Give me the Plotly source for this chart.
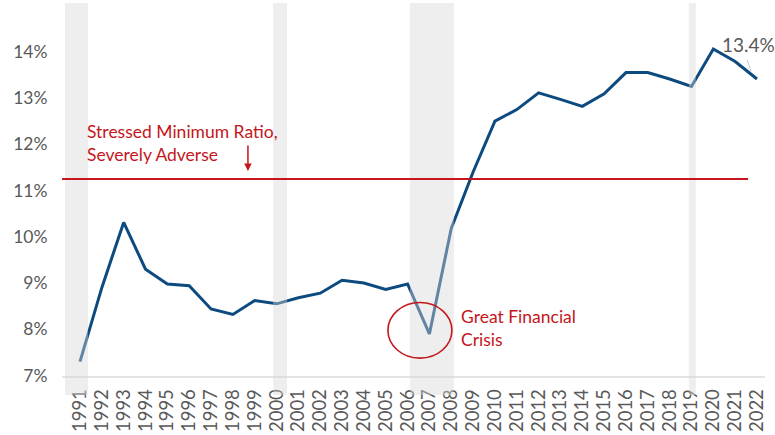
import plotly.graph_objects as go

years = list(range(1991, 2023))
ratio = [7.30, 8.90, 10.31, 9.30, 8.98, 8.94, 8.44, 8.32, 8.62, 8.55,
         8.68, 8.78, 9.06, 9.00, 8.86, 8.98, 7.90, 10.18, 11.40, 12.50,
         12.75, 13.11, 12.97, 12.82, 13.09, 13.55, 13.55, 13.41, 13.25, 14.06,
         13.79, 13.41]
stressed_min = 11.25
recession_start = [1990.31, 1999.84, 2006.11, 2018.88]
recession_end = [1991.37, 2000.48, 2008.12, 2019.20]
y_ticks = [7, 8, 9, 10, 11, 12, 13, 14]
y_tick_labels = [f"{v}%" for v in y_ticks]

RED = "#c4161c"
BLUE = "#0d4a7f"
GREY_TXT = "#595959"
FONT = "Lato"

fig = go.Figure()
fig.add_trace(go.Scatter(x=years, y=ratio, mode="lines",
                         line=dict(color=BLUE, width=3), hoverinfo="skip",
                         showlegend=False))

shapes = []
for s, e in zip(recession_start, recession_end):
    shapes.append(dict(type="rect", xref="x", yref="paper", x0=s, x1=e,
                       y0=-0.051, y1=1.0, fillcolor="rgba(215,215,215,0.42)",
                       line=dict(width=0), layer="above"))
shapes.append(dict(type="line", xref="x", yref="y", x0=1990.18, x1=2021.59,
                   y0=stressed_min, y1=stressed_min,
                   line=dict(color=RED, width=2), layer="above"))
shapes.append(dict(type="circle", xref="x", yref="y", x0=2005.10, x1=2008.03,
                   y0=7.376, y1=8.58, line=dict(color=RED, width=1.6)))
shapes.append(dict(type="line", xref="x", yref="y", x0=2021.54, x1=2021.73,
                   y0=13.83, y1=13.57, line=dict(color="#c8c8c8", width=1)))

annotations = [
    dict(x=1991.22, y=12.02, xref="x", yref="y", xanchor="left", yanchor="middle",
         align="left", showarrow=False,
         text="Stressed Minimum Ratio,<br>Severely Adverse",
         font=dict(family=FONT, size=17.5, color=RED)),
    dict(x=1998.69, y=11.42, xref="x", yref="y", text="", showarrow=True,
         ax=0, ay=-27, arrowhead=2, arrowsize=1, arrowwidth=1.5, arrowcolor=RED),
    dict(x=2008.36, y=8.02, xref="x", yref="y", xanchor="left", yanchor="middle",
         align="left", showarrow=False, text="Great Financial<br>Crisis",
         font=dict(family=FONT, size=17.5, color=RED)),
    dict(x=2021.59, y=14.15, xref="x", yref="y", xanchor="center", yanchor="middle",
         showarrow=False, text=f"{ratio[-1]:.1f}%",
         font=dict(family=FONT, size=19, color=GREY_TXT)),
]

fig.update_layout(
    width=775, height=435,
    margin=dict(l=62, r=10, t=3, b=57, pad=0),
    paper_bgcolor="white", plot_bgcolor="white",
    shapes=shapes, annotations=annotations,
    font=dict(family=FONT, color=GREY_TXT),
    xaxis=dict(range=[1990.176, 2022.366], tickmode="array", tickvals=years,
               ticktext=[str(y) for y in years], tickangle=-90,
               tickfont=dict(family=FONT, size=18.5, color=GREY_TXT),
               showgrid=False, zeroline=False, showline=True,
               linecolor="#e4e4e4", linewidth=1.5, ticks="",
               ticklabelstandoff=4),
    yaxis=dict(range=[6.99, 15.054], tickmode="array", tickvals=y_ticks,
               ticktext=y_tick_labels,
               tickfont=dict(family=FONT, size=17.5, color=GREY_TXT),
               showgrid=False, zeroline=False, showline=False,
               ticks="outside", ticklen=10, tickcolor="rgba(0,0,0,0)"),
)

fig.write_html("out.html", config={"displayModeBar": False},
               post_script="document.body.style.margin='0';document.body.style.overflow='hidden';")
